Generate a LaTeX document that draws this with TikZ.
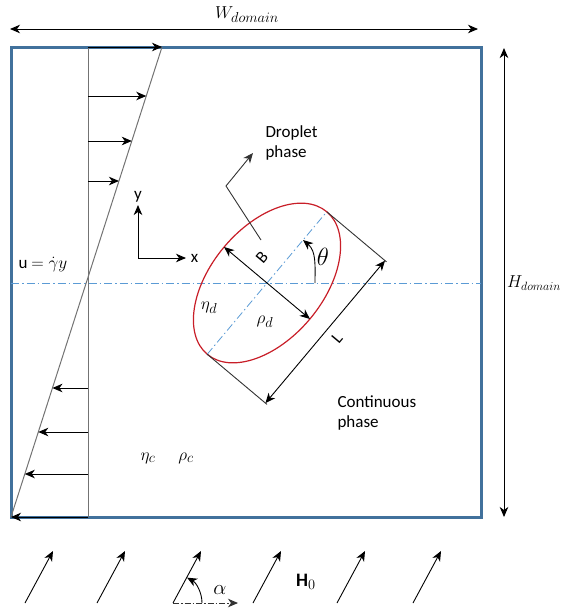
\documentclass[tikz,border=0pt]{standalone}
\usepackage{amsmath}
\usepackage{fontspec}
\setmainfont{Carlito}
\usetikzlibrary{arrows.meta}

\definecolor{boxblue}{RGB}{65,113,156}
\definecolor{axisblue}{RGB}{91,155,213}
\definecolor{dropred}{RGB}{200,30,40}

\tikzset{
  txt/.style={font=\fontsize{17}{20}\selectfont},
  mathlbl/.style={font=\fontsize{19}{22}\selectfont},
  thin line/.style={line width=0.9pt},
  profline/.style={black!55,line width=1pt},
  dashdot/.style={axisblue,line width=0.8pt,dash pattern=on 8pt off 3pt on 1.5pt off 3pt},
}

\begin{document}
\begin{tikzpicture}[x=1pt,y=1pt,>={Stealth[length=10pt,width=8.5pt,inset=3pt]}]
  \useasboundingbox (0,0) rectangle (566,-611);
  % domain
  \draw[boxblue,line width=3pt] (11,-47) rectangle (481,-517);
  \draw[dashdot] (11,-283) -- (481,-283);
  % domain size
  \draw[<->,thin line] (10,-29) -- (478,-29);
  \node[mathlbl] (wdom) at (247,-15) {$W_{domain}$};
  \draw[<->,thin line] (504,-48) -- (504,-517);
  \node[font=\fontsize{18}{21}\selectfont,anchor=west,inner sep=0pt] (hdom) at (507,-283) {$H_{domain}$};
  % shear profile u = gamma y
  \draw[profline] (88,-47) -- (88,-517);
  \draw[profline] (162,-47) -- (11,-517);
  \foreach \y in {47,96,141,181,388,432,474,517}{
    \draw[->,thin line] (88,-\y) -- ({162-0.3213*(\y-47)},-\y);}
  \node[txt,inner sep=1pt] (ulabel) at (43,-265) {u $= \dot{\gamma}y$};
  % axes
  \coordinate (o) at (138,-258);
  \draw[->,thin line] (o) -- ++(0,53) node[txt,above=-1pt] (ylab) {y};
  \draw[->,thin line] (o) -- ++(48,0) node[txt,right=1pt] (xlab) {x};
  % droplet
  \begin{scope}[shift={(267,-283)},rotate=50]
    \draw[dropred,line width=1.2pt] (0,0) ellipse [x radius=93pt, y radius=56pt];
    \draw[dashdot] (-93,0) -- (93,0);
    \draw[<->,thin line] (0,56) -- (0,-56);
    \node[txt,rotate=50] (blabel) at (16,20) {B};
    \draw[thin line,black!80] (93,0) -- (93,-78);
    \draw[thin line,black!80] (-93,0) -- (-93,-78);
    \draw[<->,thin line] (-93,-76) -- (93,-76);
    \node[txt,rotate=50] (llabel) at (3,-89) {L};
  \end{scope}
  \draw[->,thin line] (315,-283) to[out=90,in=-40] (303,-240);
  \node[font=\fontsize{23}{26}\selectfont] (theta) at (323,-257) {$\theta$};
  \node[mathlbl] (etad) at (209,-308) {$\eta_d$};
  \node[mathlbl] (rhod) at (265,-322) {$\rho_d$};
  \node[mathlbl] (etac) at (148,-458) {$\eta_c$};
  \node[mathlbl] (rhoc) at (186,-458) {$\rho_c$};
  % phases
  \node[txt,anchor=west,align=left] (drop) at (262,-143) {Droplet\\phase};
  \draw[->,thin line,black!80] (261,-240) -- (226,-186) -- (253,-153);
  \node[txt,anchor=west,align=left] (cont) at (334,-413) {Continuous\\phase};
  % magnetic field H0
  \foreach \x in {25,97,173,253,337,413}{
    \draw[->,thin line] (\x,-603) -- ++(28,52);}
  \draw[->,thin line,black!80,dash pattern=on 6pt off 2pt on 1.5pt off 2pt] (173,-603) -- (238,-603);
  \draw[->,thin line] (202,-603) arc[start angle=0,end angle=61,radius=29];
  \node[font=\fontsize{21}{24}\selectfont] (alpha) at (220,-590) {$\alpha$};
  \node[mathlbl] (hzero) at (306,-582) {$\mathbf{H}_0$};
\end{tikzpicture}
\end{document}
